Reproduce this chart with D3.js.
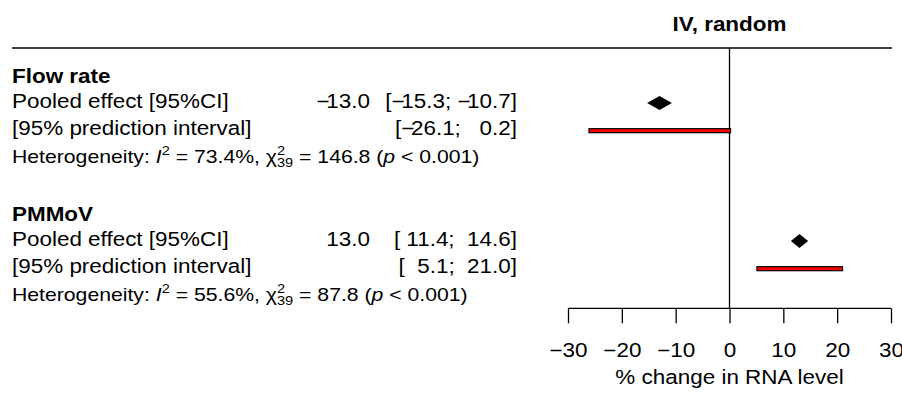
<!DOCTYPE html>
<html>
<head>
<meta charset="utf-8">
<script src="https://cdn.jsdelivr.net/npm/d3@7"></script>
<style>
  body { margin: 0; background: #fff; }
  svg { display: block; font-family: "Liberation Sans", Arial, Helvetica, sans-serif; }
  text { white-space: pre; }
</style>
</head>
<body>
<div id="chart"></div>
<script>
// data
const groups = ["Flow rate", "PMMoV"];
const estimate = [-13.0, 13.0];
const ciLower = [-15.3, 11.4];
const ciUpper = [-10.7, 14.6];
const piLower = [-26.1, 5.1];
const piUpper = [0.2, 21.0];
const i2 = ["73.4%", "55.6%"];
const qStat = ["146.8", "87.8"];
const qDf = ["39", "39"];
const pText = ["< 0.001", "< 0.001"];
const xTicks = [-30, -20, -10, 0, 10, 20, 30];

// dimensions
const WIDTH = 902;
const HEIGHT = 393;
const FONT = 19.7;
const FONT_HET = 18.6;
const FONT_SUP = 12.8;
const SX = 1.14; // the original text is a bit wider than it is tall
const ROWS_PER_GROUP = 5;

const $svg = d3.select("#chart").append("svg")
  .attr("width", WIDTH)
  .attr("height", HEIGHT);

const x = d3.scaleLinear().domain([-30, 30]).range([568, 891]);
const row = d3.scaleLinear().domain([0, 1]).range([75.5, 103.1]);
const axisY = 308.3;

const fmt = d3.format(".1f");
const pad = (v, w) => {
  const s = fmt(v);
  return " ".repeat(Math.max(0, w - s.length)) + s;
};
const ci = (lo, hi) => `[${pad(lo, 5)}; ${pad(hi, 5)}]`;

// text helper, stretched horizontally around its anchor
function addText(parent, tx, ty, opts = {}) {
  return parent.append("text")
    .attr("transform", `translate(${tx},${ty}) scale(${SX},1)`)
    .attr("font-size", opts.size || FONT)
    .attr("font-weight", opts.bold ? "bold" : null)
    .attr("text-anchor", opts.anchor || "start");
}

// numbers in the table: the minus sign sits tighter than in the axis labels
function numText($text, str) {
  str.split(/(−)/).filter(s => s.length).forEach(s => {
    const $t = $text.append("tspan").text(s);
    if (s === "−") $t.attr("letter-spacing", -3);
  });
  return $text;
}

// header
addText($svg, x(0), 31, { bold: true, anchor: "middle" }).text("IV, random");

$svg.append("line")
  .attr("x1", 12).attr("x2", 892)
  .attr("y1", 48).attr("y2", 48)
  .attr("stroke", "#000").attr("stroke-width", 1.3);

// zero line
$svg.append("line")
  .attr("x1", x(0)).attr("x2", x(0))
  .attr("y1", 48).attr("y2", axisY)
  .attr("stroke", "#000").attr("stroke-width", 1.3);

// groups
groups.forEach((g, i) => {
  const r0 = i * ROWS_PER_GROUP;
  const $g = $svg.append("g").attr("class", "group");
  const y = r => row(r0 + r);

  addText($g, 12, y(0) + 7.5, { bold: true }).text(g);
  addText($g, 12, y(1) + 4.5).text("Pooled effect [95%CI]");
  numText(addText($g, 370, y(1) + 4.5, { anchor: "end" }), fmt(estimate[i]));
  numText(addText($g, 517, y(1) + 4.5, { anchor: "end" }), ci(ciLower[i], ciUpper[i]));
  addText($g, 12, y(2) + 4).text("[95% prediction interval]");
  numText(addText($g, 517, y(2) + 4, { anchor: "end" }), ci(piLower[i], piUpper[i]));

  // heterogeneity line
  const $het = addText($g, 12, y(3) + 4.5, { size: FONT_HET });
  $het.append("tspan").text("Heterogeneity: ");
  $het.append("tspan").attr("font-style", "italic").text("I");
  $het.append("tspan").attr("font-size", FONT_SUP).attr("dy", -8).text("2");
  $het.append("tspan").attr("dy", 8).text(` = ${i2[i]}, χ`);
  $het.append("tspan").attr("font-size", FONT_SUP).attr("dy", -8).text("2");
  $het.append("tspan").attr("font-size", FONT_SUP).attr("dx", -7.1).attr("dy", 12.5).text(qDf[i]);
  $het.append("tspan").attr("dy", -4.5).text(` = ${qStat[i]} (`);
  $het.append("tspan").attr("font-style", "italic").text("p");
  $het.append("tspan").text(` ${pText[i]})`);

  // diamond
  const yc = y(1);
  const h = 7;
  $g.append("path")
    .attr("d", `M${x(ciLower[i])},${yc} L${x(estimate[i])},${yc - h} L${x(ciUpper[i])},${yc} L${x(estimate[i])},${yc + h} Z`)
    .attr("fill", "#000");

  // prediction interval bar
  const yp = y(2);
  $g.append("rect")
    .attr("x", x(piLower[i]))
    .attr("y", yp - 2)
    .attr("width", x(piUpper[i]) - x(piLower[i]))
    .attr("height", 4)
    .attr("fill", "#ff0000")
    .attr("stroke", "#000")
    .attr("stroke-width", 1.2);
});

// axis
const axis = d3.axisBottom(x)
  .tickValues(xTicks)
  .tickSize(15)
  .tickPadding(19.4)
  .tickFormat(d3.format("d"));

const $axis = $svg.append("g")
  .attr("transform", `translate(0,${axisY})`)
  .call(axis);

$axis.attr("font-family", null).attr("font-size", null);
$axis.select(".domain")
  .attr("d", `M${x(-30)},0H${x(30)}`)
  .attr("stroke-width", 1.3);
$axis.selectAll(".tick line").attr("stroke-width", 1.3);
$axis.selectAll(".tick text")
  .attr("font-size", FONT)
  .attr("fill", "#000")
  .attr("transform", `scale(${SX},1)`);

addText($svg, x(0), 383.5, { anchor: "middle" }).text("% change in RNA level");
</script>
</body>
</html>
